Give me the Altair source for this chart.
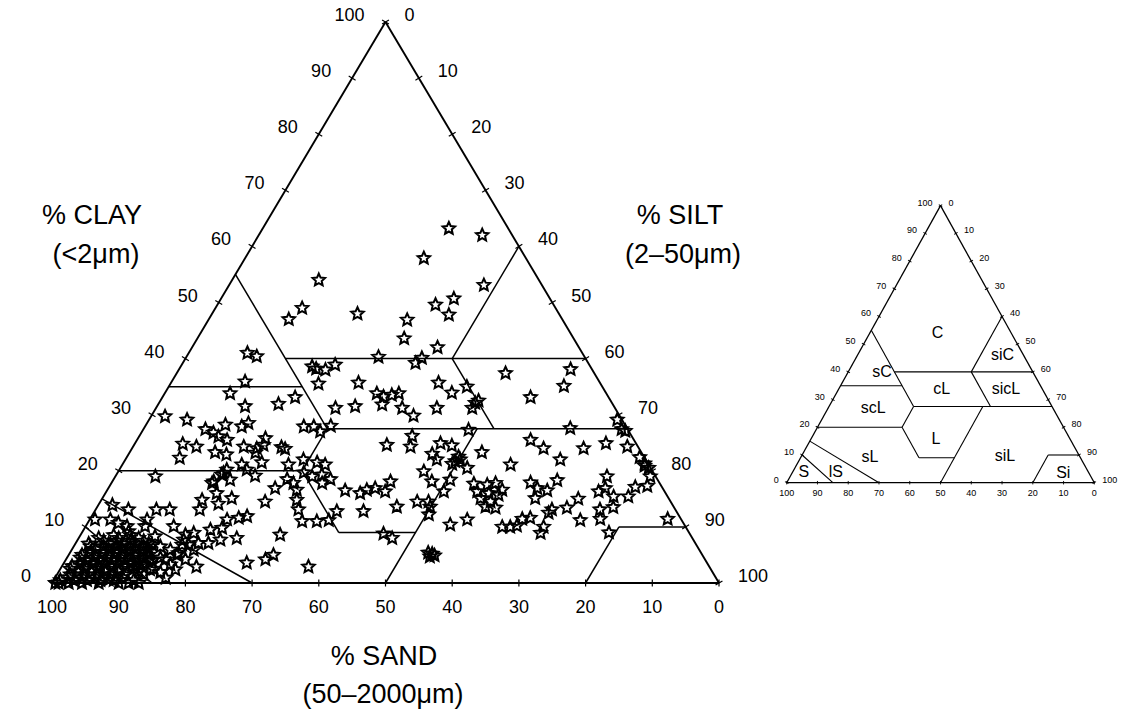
import math
import altair as alt
import pandas as pd

# ---------------- data (sand %, clay %) ----------------
TICKS = list(range(0, 101, 10))

SAMPLES_UPPER = [
    (8.9, 63.2), (4.5, 62.0), (15.3, 57.9), (8.7, 53.1), (33.0, 54.0), (38.0, 49.0),
    (41.0, 47.0), (30.2, 48.0), (23.3, 46.9), (17.7, 49.6), (14.4, 50.7), (16.6, 47.8),
    (25.4, 43.6), (21.2, 42.0), (24.5, 40.1), (25.9, 39.2), (50.2, 41.0), (49.1, 40.4),
    (53.1, 35.9), (41.7, 38.6), (41.3, 38.2), (40.0, 38.0), (38.1, 38.9), (42.3, 35.5),
    (36.2, 35.7), (30.9, 40.3), (13.3, 37.4), (3.2, 38.1), (5.7, 35.1), (24.2, 35.7),
    (20.3, 35.0),
]

SAMPLES_LEFT = [
    (56.4, 33.8), (55.3, 31.5), (50.1, 31.9), (47.0, 33.1), (68.2, 29.7), (65.2, 29.1),
    (63.3, 27.4), (62.4, 26.8), (62.0, 26.1), (59.9, 28.2), (61.0, 25.5), (57.6, 27.9),
    (56.3, 28.5), (68.0, 24.8), (66.2, 24.3), (69.7, 22.3), (63.9, 23.3), (62.4, 22.9),
    (59.1, 24.3), (57.3, 24.0), (55.1, 25.8), (56.0, 24.6), (57.9, 23.2), (57.8, 21.5),
    (61.0, 21.1), (60.7, 20.2), (60.0, 19.1), (53.1, 23.9), (53.5, 24.2), (54.0, 21.1),
    (48.3, 27.9), (46.8, 27.9), (46.3, 27.0), (44.2, 28.0), (51.3, 22.0), (49.5, 21.5),
    (48.5, 21.1), (52.4, 19.7), (51.5, 19.0), (49.9, 19.3), (49.0, 18.5), (50.6, 17.8),
    (55.5, 18.5), (54.9, 17.8), (55.0, 16.6), (55.9, 14.8), (56.5, 13.1), (57.0, 11.0),
    (58.1, 16.9), (60.8, 14.5), (54.8, 11.0), (52.9, 11.2), (50.9, 12.8), (64.5, 19.6),
    (64.1, 18.4), (66.7, 18.1), (63.7, 20.2), (67.3, 16.0), (70.1, 14.8), (71.3, 13.1),
    (68.0, 14.1), (65.5, 15.1), (75.0, 19.0), (67.1, 17.8), (64.9, 19.3),
]

SAMPLES_LOWER_LEFT = [
    (68.1, 11.3), (66.2, 11.6), (64.8, 11.9), (69.6, 9.8), (68.3, 8.0), (71.5, 9.5),
    (70.9, 7.7), (73.0, 7.1), (74.3, 8.9), (76.4, 7.7), (78.8, 5.0), (77.9, 4.2),
    (76.9, 2.9), (76.7, 10.1), (77.8, 13.1), (75.8, 13.1), (82.0, 13.1), (84.0, 13.9),
    (87.9, 11.3), (85.6, 11.3), (84.7, 10.7), (83.7, 10.1), (80.1, 11.3), (81.0, 10.1),
    (83.9, 9.2), (75.7, 8.6), (77.1, 6.8), (74.5, 7.1), (75.8, 5.9), (78.4, 5.3),
    (81.6, 6.8), (80.4, 8.3), (76.1, 6.8), (80.9, 4.2), (83.2, 4.2), (82.8, 1.9),
    (80.6, 3.3), (61.5, 8.6), (64.3, 5.0), (65.9, 4.2), (69.0, 3.6), (60.1, 2.9),
    (87.0, 0.0), (99.5, 0.0), (91.2, 0.6), (79.3, 5.9), (84.1, 2.4), (82.5, 0.9),
    (85.2, 3.3), (80.3, 2.4),
]

SAMPLES_SANDY = [
    (98.5, 0.5), (96.5, 0.5), (94.5, 0.5), (92.5, 0.5), (90.5, 0.5), (87.5, 0.5),
    (96.5, 1.5), (94.5, 1.5), (92.5, 1.5), (90.5, 1.5), (88.5, 1.5), (85.5, 1.5),
    (96.0, 2.5), (94.0, 2.5), (92.0, 2.5), (90.5, 2.5), (88.5, 2.5), (86.5, 2.5), (83.5, 2.5),
    (94.0, 3.5), (92.0, 3.5), (90.5, 3.5), (88.5, 3.5), (86.5, 3.5), (84.5, 3.5),
    (93.5, 4.5), (91.5, 4.5), (89.5, 4.5), (87.5, 4.5), (86.0, 4.5), (84.0, 4.5), (81.5, 4.5),
    (91.5, 5.5), (89.5, 5.5), (87.5, 5.5), (85.5, 5.5), (83.5, 5.5),
    (91.0, 6.5), (89.0, 6.5), (87.0, 6.5), (85.0, 6.5), (83.0, 6.5), (80.5, 6.5),
    (88.5, 7.5), (86.5, 7.5), (84.5, 7.5), (82.5, 7.5),
    (86.5, 8.5), (84.0, 8.5),
    (99.0, 0.0), (97.5, 0.0), (95.5, 0.0), (93.0, 0.0), (90.0, 0.0), (88.5, 0.0),
    (97.0, 1.0), (95.0, 1.0), (93.0, 1.0), (91.0, 1.0), (89.0, 1.0),
    (95.0, 2.0), (93.0, 2.0), (91.0, 2.0), (89.0, 2.0), (86.0, 2.0),
    (95.5, 3.0), (93.5, 3.0), (91.5, 3.0), (89.5, 3.0), (87.5, 3.0), (86.0, 3.0),
    (93.0, 4.0), (91.0, 4.0), (89.0, 4.0), (87.0, 4.0), (85.0, 4.0), (83.0, 4.0),
    (93.0, 5.0), (91.0, 5.0), (89.0, 5.0), (87.0, 5.0), (85.0, 5.0), (83.0, 5.0),
    (90.5, 6.0), (88.5, 6.0), (86.5, 6.0), (84.5, 6.0), (82.5, 6.0),
    (91.0, 7.0), (88.0, 7.0), (86.0, 7.0), (84.0, 7.0), (82.0, 7.0),
    (89.0, 8.0), (86.0, 8.0), (83.0, 8.0),
]

SAMPLES_CENTRE = [
    (34.4, 33.8), (34.6, 31.8), (41.9, 31.2), (38.8, 31.5), (23.1, 33.9), (20.5, 32.1),
    (19.8, 32.5), (21.4, 31.2), (33.7, 33.2), (32.3, 33.5), (31.1, 33.8), (31.9, 31.2),
    (30.9, 29.8), (26.7, 31.2), (23.9, 27.3), (32.9, 26.2), (34.1, 24.3), (37.5, 24.6),
    (29.3, 24.9), (27.8, 24.5), (27.8, 22.5), (28.7, 21.7), (27.8, 22.0), (29.4, 21.2),
    (31.5, 23.0), (31.3, 22.0), (27.5, 20.5), (34.3, 19.9), (34.0, 18.1), (31.1, 18.4),
    (33.1, 16.3), (40.2, 18.1), (41.9, 16.3), (38.0, 14.5), (36.3, 14.5), (36.5, 13.6),
    (37.4, 12.2), (41.5, 13.6), (35.1, 10.4), (32.1, 11.3), (45.9, 8.8), (45.0, 8.0),
    (40.4, 5.2), (40.9, 5.4), (40.2, 4.9), (41.0, 4.7), (46.9, 12.8), (47.8, 16.5),
    (45.8, 16.0), (44.5, 16.6), (43.1, 16.9), (23.9, 23.3), (20.7, 21.1), (26.0, 17.5),
    (24.6, 17.8), (24.2, 16.6), (25.2, 15.7), (26.5, 16.0), (28.2, 15.1), (27.0, 14.5),
    (26.8, 13.4), (28.2, 13.6), (27.9, 17.7), (28.1, 16.3), (27.5, 10.0), (26.3, 10.0),
    (25.2, 10.2), (23.8, 11.4), (22.5, 11.6), (21.3, 10.0), (22.3, 8.9),
]

SAMPLES_RIGHT = [
    (15.5, 25.5), (14.3, 24.0), (12.8, 22.0), (8.5, 27.6), (8.3, 24.0), (4.5, 24.9),
    (0.7, 29.1), (0.5, 27.1), (0.9, 27.4), (1.6, 24.3), (0.7, 22.4), (0.3, 20.5),
    (0.7, 20.9), (0.5, 21.3), (0.8, 19.0), (7.3, 19.0), (8.6, 16.9), (9.9, 16.3),
    (8.1, 15.4), (5.9, 15.4), (4.0, 17.1), (2.1, 17.3), (11.3, 13.1), (9.1, 13.5),
    (12.1, 11.4), (12.0, 9.0), (2.0, 11.4), (15.2, 11.2), (13.6, 15.0), (16.1, 13.4),
    (18.5, 13.1), (19.3, 12.5), (19.3, 17.9), (18.8, 16.9), (17.5, 16.5), (15.1, 18.3),
    (20.0, 15.1), (11.7, 33.1),
]

# triangle edges and texture-class boundaries, as (sand, clay) end points
EDGES = [((100, 0), (0, 0)), ((100, 0), (0, 100)), ((0, 100), (0, 0))]
CLASS_LINES = [
    ((45, 55), (45, 27.5)), ((65, 35), (45, 35)), ((45, 40), (0, 40)),
    ((0, 60), (20, 40)), ((20, 40), (20, 27.5)), ((45, 27.5), (0, 27.5)),
    ((45, 27.5), (52.5, 20)), ((80, 20), (52.5, 20)), ((52.5, 20), (52.5, 9)),
    ((52.5, 9), (41, 9)), ((50, 0), (22.5, 27.5)), ((20, 0), (10, 10)),
    ((10, 10), (0, 10)), ((85, 15), (70, 0)), ((90, 10), (85, 0)),
]

CLASS_NAMES = ["C", "sC", "scL", "sL", "S", "lS", "cL", "L", "siC", "sicL", "siL", "Si"]
CLASS_SAND = [24.0, 49.0, 58.4, 68.2, 92.4, 82.0, 32.7, 43.6, 6.8, 11.8, 24.2, 8.3]
CLASS_CLAY = [54.0, 40.1, 26.9, 9.4, 4.0, 4.0, 33.8, 15.7, 46.1, 33.8, 9.7, 3.6]

# ---------------- layout / style ----------------
FONT = "Liberation Sans, Arial, Helvetica, sans-serif"
FRAMES = {"main": (0.0, 0.0, 1.0, 1.0), "inset": (110.15, 17.88, 0.4612, 0.4938)}


def project(sand, clay, frame):
    x0, y0, sx, sy = FRAMES[frame]
    return x0 + sx * (100 - sand - clay / 2.0), y0 + sy * clay


star_pts = []
for k in range(10):
    a = math.radians(-90 + 36 * k)
    r = 1.0 if k % 2 == 0 else 0.47
    star_pts.append(f"{r * math.cos(a):.3f},{r * math.sin(a):.3f}")
STAR = "M" + "L".join(star_pts) + "Z"
H_SEG = "M-1,0L1,0"
V_SEG = "M0,-1L0,1"

XS = alt.Scale(domain=[0, 100], nice=False, zero=False)
YS = alt.Scale(domain=[0, 100], nice=False, zero=False)
X = lambda f: alt.X(f, type="quantitative", scale=XS, axis=None)
Y = lambda f: alt.Y(f, type="quantitative", scale=YS, axis=None)

# ---------------- tables ----------------
seg_rows = []
for frame in FRAMES:
    for kind, segs in (("edge", EDGES), ("class", CLASS_LINES)):
        for (s1, c1), (s2, c2) in segs:
            x, y = project(s1, c1, frame)
            x2, y2 = project(s2, c2, frame)
            seg_rows.append(dict(frame=frame, kind=kind, x=x, y=y, x2=x2, y2=y2))
segs = pd.DataFrame(seg_rows)

tick_rows = []
for frame in FRAMES:
    for v in TICKS:
        for axis, (s, c) in (("clay", (100 - v, v)), ("silt", (0, 100 - v)), ("sand", (v, 0))):
            x, y = project(s, c, frame)
            tick_rows.append(dict(frame=frame, axis=axis, x=x, y=y, label=str(v)))
ticks = pd.DataFrame(tick_rows)

pts = []
for group in (SAMPLES_UPPER, SAMPLES_LEFT, SAMPLES_LOWER_LEFT, SAMPLES_SANDY,
              SAMPLES_CENTRE, SAMPLES_RIGHT):
    for s, c in group:
        x, y = project(s, c, "main")
        pts.append(dict(sand=s, clay=c, x=x, y=y))
points = pd.DataFrame(pts)

cls_rows = []
for n, s, c in zip(CLASS_NAMES, CLASS_SAND, CLASS_CLAY):
    x, y = project(s, c, "inset")
    cls_rows.append(dict(name=n, x=x, y=y))
classes = pd.DataFrame(cls_rows)

# ---------------- layers ----------------
layers = []
widths = {("main", "edge"): 1.9, ("main", "class"): 1.5, ("inset", "edge"): 1.3, ("inset", "class"): 1.1}
for (frame, kind), w in widths.items():
    d = segs[(segs.frame == frame) & (segs.kind == kind)]
    layers.append(
        alt.Chart(d).mark_rule(color="black", strokeWidth=w).encode(
            x=X("x"), y=Y("y"), x2=alt.X2("x2"), y2=alt.Y2("y2")
        )
    )

tick_style = {
    "main": dict(size=64, sw=1.2, bsize=49),
    "inset": dict(size=16, sw=0.9, bsize=12),
}
for frame, st in tick_style.items():
    for axis, shape, ang, size in (("clay", H_SEG, 31, st["size"]),
                                   ("silt", H_SEG, 329, st["size"]),
                                   ("sand", V_SEG, 0, st["bsize"])):
        d = ticks[(ticks.frame == frame) & (ticks.axis == axis)]
        layers.append(
            alt.Chart(d).mark_point(shape=shape, angle=ang, size=size, filled=False,
                                    stroke="black", strokeWidth=st["sw"], opacity=1).encode(
                x=X("x"), y=Y("y")
            )
        )

label_style = {
    ("main", "clay"): dict(align="right", dx=-21, dy=-6, fontSize=18),
    ("main", "silt"): dict(align="left", dx=19, dy=-6, fontSize=18),
    ("main", "sand"): dict(align="center", dx=0, dy=25, fontSize=18),
    ("inset", "clay"): dict(align="right", dx=-8, dy=-3, fontSize=9),
    ("inset", "silt"): dict(align="left", dx=8, dy=-3, fontSize=9),
    ("inset", "sand"): dict(align="center", dx=0, dy=10, fontSize=9),
}
for (frame, axis), st in label_style.items():
    d = ticks[(ticks.frame == frame) & (ticks.axis == axis)]
    layers.append(
        alt.Chart(d).mark_text(baseline="middle", font=FONT, color="black", **st).encode(
            x=X("x"), y=Y("y"), text="label:N"
        )
    )

layers.append(
    alt.Chart(points).mark_point(shape=STAR, size=170, filled=False, stroke="black",
                                 strokeWidth=2.0, opacity=1).encode(
        x=X("x"), y=Y("y"),
        tooltip=[alt.Tooltip("sand:Q", title="% sand"), alt.Tooltip("clay:Q", title="% clay")],
    )
)

layers.append(
    alt.Chart(classes).mark_text(font=FONT, fontSize=16, color="black", baseline="middle",
                                 align="center").encode(
        x=X("x"), y=Y("y"), text="name:N"
    )
)

TITLES = [
    ("% CLAY", 40, 194), ("(<2μm)", 44, 233),
    ("% SILT", 628, 194), ("(2–50μm)", 631, 233),
    ("% SAND", 332, 635), ("(50–2000μm)", 331, 673),
]
one = pd.DataFrame({"k": [0]})
for txt, px, py in TITLES:
    layers.append(
        alt.Chart(one).mark_text(text=txt, font=FONT, fontSize=27, color="black",
                                 align="center", baseline="middle").encode(
            x=alt.value(px), y=alt.value(py)
        )
    )

chart = alt.layer(*layers).properties(
    width=667, height=561,
    padding={"left": 52, "top": 22, "right": 402, "bottom": 134},
    autosize=alt.AutoSizeParams(type="none"),
    background="white",
).configure_view(stroke=None)

chart.save("out.html", embed_options={"renderer": "svg", "actions": False})
